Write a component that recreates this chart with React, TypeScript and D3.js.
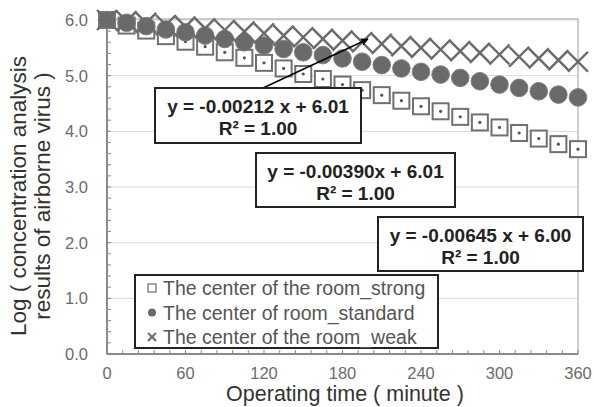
import React from "react";
import * as d3 from "d3";

// operating time (minute)
const times = [0, 15, 30, 45, 60, 75, 90, 105, 120, 135, 150, 165, 180, 195, 210, 225, 240, 255, 270, 285, 300, 315, 330, 345, 360];

const strong = [6.0, 5.9, 5.81, 5.71, 5.61, 5.52, 5.42, 5.32, 5.23, 5.13, 5.03, 4.94, 4.84, 4.74, 4.65, 4.55, 4.45, 4.36, 4.26, 4.16, 4.07, 3.97, 3.87, 3.77, 3.68];
const standard = [6.0, 5.95, 5.89, 5.83, 5.78, 5.72, 5.66, 5.6, 5.54, 5.48, 5.42, 5.37, 5.31, 5.25, 5.19, 5.13, 5.07, 5.02, 4.96, 4.9, 4.84, 4.78, 4.72, 4.66, 4.61];
const weak = [6.0, 5.98, 5.95, 5.91, 5.88, 5.85, 5.82, 5.79, 5.76, 5.72, 5.69, 5.66, 5.63, 5.6, 5.57, 5.53, 5.5, 5.47, 5.44, 5.41, 5.38, 5.34, 5.31, 5.28, 5.25];

const xTicks = [0, 60, 120, 180, 240, 300, 360];
const yTicks = [0, 1, 2, 3, 4, 5, 6];

const legendLabels = [
  "The center of the room_strong",
  "The center of room_standard",
  "The center of the room_weak",
];

const fits = [
  { eq: "y = -0.00212 x + 6.01", r2: "R² = 1.00", box: [155, 88, 206, 55] },
  { eq: "y = -0.00390x + 6.01", r2: "R² = 1.00", box: [256, 153, 199, 54] },
  { eq: "y = -0.00645 x + 6.00", r2: "R² = 1.00", box: [378, 217, 205, 54] },
];

const font = "Arial, 'Liberation Sans', sans-serif";

const Square = ({ x, y, s = 16 }: { x: number; y: number; s?: number }) => (
  <g>
    <rect x={x - s / 2} y={y - s / 2} width={s} height={s} fill="#fff" stroke="#707070" strokeWidth={2} />
    <circle cx={x} cy={y} r={1.6} fill="#555" />
  </g>
);

const Dot = ({ x, y, r = 8.8 }: { x: number; y: number; r?: number }) => (
  <circle cx={x} cy={y} r={r} fill="#6a6a6a" stroke="#808080" strokeWidth={1} />
);

const Cross = ({ x, y, s = 10 }: { x: number; y: number; s?: number }) => (
  <g stroke="#6a6a6a" strokeWidth={2.4}>
    <line x1={x - s} y1={y - s} x2={x + s} y2={y + s} />
    <line x1={x - s} y1={y + s} x2={x + s} y2={y - s} />
  </g>
);

const App = () => {
  const W = 594;
  const H = 407;
  const left = 107;
  const right = 578;
  const top = 20;
  const bottom = 354;

  const x = d3.scaleLinear().domain([0, 360]).range([left, right]);
  const y = d3.scaleLinear().domain([0, 6]).range([bottom, top]);

  const xMinor = d3.range(0, 361, 12);
  const yMinor = d3.range(0, 6.001, 0.2);

  return (
    <svg width={W} height={H} style={{ position: "absolute", left: 0, top: 0, background: "#fff" }} fontFamily={font}>
      <defs>
        <marker id="arr" viewBox="0 0 10 10" refX={9} refY={5} markerWidth={5} markerHeight={5} orient="auto">
          <path d="M0,0 L10,5 L0,10 z" fill="#000" />
        </marker>
      </defs>
      {/* grid */}
      {yTicks.slice(1).map((t) => (
        <line key={t} x1={left} x2={right} y1={y(t)} y2={y(t)} stroke="#d9d9d9" strokeWidth={1} />
      ))}
      <rect x={left} y={y(6) - 1} width={right - left} height={bottom - y(6) + 1} fill="none" stroke="#bdbdbd" strokeWidth={1.5} />
      {/* axes */}
      <line x1={left} x2={left} y1={top - 1} y2={bottom} stroke="#8a8a8a" strokeWidth={2} />
      <line x1={left} x2={right} y1={bottom} y2={bottom} stroke="#8a8a8a" strokeWidth={2} />
      {yMinor.map((t, i) => (
        <line key={i} x1={left} x2={left + 4} y1={y(t)} y2={y(t)} stroke="#8a8a8a" strokeWidth={1} />
      ))}
      {xMinor.map((t) => (
        <line key={t} x1={x(t)} x2={x(t)} y1={bottom} y2={bottom - 4} stroke="#8a8a8a" strokeWidth={1} />
      ))}
      {yTicks.map((t) => (
        <text key={t} x={88} y={y(t)} dy="0.36em" textAnchor="end" fontSize={16.5} fill="#6b6b6b">
          {t.toFixed(1)}
        </text>
      ))}
      {xTicks.map((t) => (
        <text key={t} x={x(t)} y={379} textAnchor="middle" fontSize={16.5} fill="#6b6b6b">
          {t}
        </text>
      ))}
      <text x={345} y={401} textAnchor="middle" fontSize={21.5} fill="#333">
        Operating time ( minute )
      </text>
      <g transform={`translate(0,196) rotate(-90)`}>
        <text x={0} y={26} textAnchor="middle" fontSize={22.5} fill="#333">
          Log ( concentration analysis
        </text>
        <text x={0} y={50} textAnchor="middle" fontSize={22.5} fill="#333">
          results of airborne virus )
        </text>
      </g>
      {/* series */}
      {times.map((t, i) => (
        <Square key={"s" + t} x={x(t)} y={y(strong[i])} />
      ))}
      {times.map((t, i) => (
        <Dot key={"d" + t} x={x(t)} y={y(standard[i])} />
      ))}
      {times.map((t, i) => (
        <Cross key={"c" + t} x={x(t)} y={y(weak[i])} />
      ))}
      {/* arrow */}
      <line x1={263} y1={88} x2={368} y2={39} stroke="#000" strokeWidth={1.5} markerEnd="url(#arr)" />
      {/* fit boxes */}
      {fits.map((f) => {
        const [bx, by, bw, bh] = f.box;
        return (
          <g key={f.eq}>
            <rect x={bx} y={by} width={bw} height={bh} fill="#fff" stroke="#222" strokeWidth={2} />
            <text x={bx + bw / 2} y={by + 25} textAnchor="middle" fontSize={19} fontWeight="bold" fill="#222">
              {f.eq}
            </text>
            <text x={bx + bw / 2} y={by + 47} textAnchor="middle" fontSize={19} fontWeight="bold" fill="#222">
              {f.r2}
            </text>
          </g>
        );
      })}
      {/* legend */}
      <rect x={135} y={275} width={303} height={73} fill="#fff" stroke="#222" strokeWidth={2} />
      {legendLabels.map((l, i) => {
        const cy = 288 + i * 24.5;
        return (
          <g key={l}>
            {i === 0 && <rect x={148} y={cy - 4} width={8} height={8} fill="#fff" stroke="#6a6a6a" strokeWidth={1.2} />}
            {i === 1 && <circle cx={152} cy={cy} r={4} fill="#6a6a6a" />}
            {i === 2 && (
              <g stroke="#6a6a6a" strokeWidth={2}>
                <line x1={148} y1={cy - 4} x2={156} y2={cy + 4} />
                <line x1={148} y1={cy + 4} x2={156} y2={cy - 4} />
              </g>
            )}
            <text x={163} y={cy} dy="0.36em" fontSize={19.5} fill="#555">
              {l}
            </text>
          </g>
        );
      })}
    </svg>
  );
};

export default App;
